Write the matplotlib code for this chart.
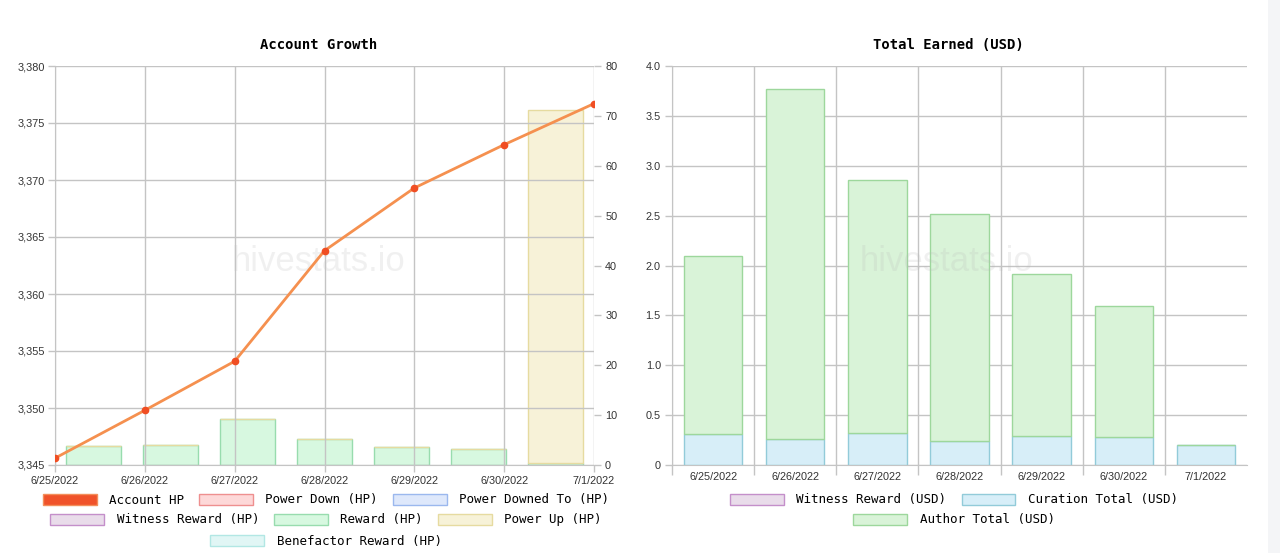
import matplotlib
matplotlib.use("Agg")
import matplotlib.pyplot as plt
import matplotlib.patches as mpatches
from matplotlib.ticker import FuncFormatter, FixedLocator, MultipleLocator
import numpy as np

dates = ["6/25/2022", "6/26/2022", "6/27/2022", "6/28/2022",
         "6/29/2022", "6/30/2022", "7/1/2022"]

# left chart: account growth
account_hp = [3345.6, 3349.8, 3354.1, 3363.8, 3369.3, 3373.1, 3376.7]
reward_hp = [3.8, 4.1, 9.3, 5.2, 3.6, 3.3, 0.5]
power_up_hp = [0, 0, 0, 0, 0, 0, 70.7]

# right chart: total earned (USD)
curation_usd = [0.31, 0.26, 0.32, 0.245, 0.29, 0.28, 0.20]
author_usd = [1.79, 3.51, 2.54, 2.27, 1.625, 1.315, 0.0]
witness_usd = [0, 0, 0, 0, 0, 0, 0]

W, H = 1280, 553
GRID = "#c4c4c4"
TXT = "#333333"
MONO = "DejaVu Sans Mono"
SANS = "Liberation Sans"

plt.rcParams["font.family"] = SANS


def rect(x0, x1, ytop, ybot):
    return [x0 / W, 1 - ybot / H, (x1 - x0) / W, (ybot - ytop) / H]


def style_ticks(ax):
    ax.tick_params(colors=GRID, labelcolor=TXT, labelsize=7.8, width=1)


def watermark(ax, x):
    ax.text(x, 0.509, "hivestats.io", transform=ax.transAxes, ha="center", va="center",
            fontsize=25, color="#b8b8b8", alpha=0.2, zorder=10)


def legend_rows(fig, rows, xc, ys):
    for row, y in zip(rows, ys):
        handles = [mpatches.Patch(facecolor=f, edgecolor=e, lw=1, label=l)
                   for l, f, e in row]
        fig.legend(handles=handles, loc="center", bbox_to_anchor=(xc / W, 1 - y / H),
                   ncol=len(handles), frameon=False,
                   prop={"family": MONO, "size": 9},
                   handlelength=4.3, handleheight=1.0, handletextpad=1.0,
                   columnspacing=1.2, borderpad=0, borderaxespad=0)


fig = plt.figure(figsize=(W / 100, H / 100), dpi=100, facecolor="white")
fig.patches.append(mpatches.Rectangle((1268 / W, 0), 12 / W, 1, transform=fig.transFigure,
                                      facecolor="#f4f5f7", edgecolor="none"))

# ---------------- Account Growth ----------------
left = rect(55, 594, 66, 465)
axb = fig.add_axes(left)
axl = fig.add_axes(left)
axl.patch.set_visible(False)

idx = np.arange(len(dates))
axb.bar(idx, reward_hp, width=0.71, color="#d7f8e0", edgecolor="#98dcae", lw=1)
axb.bar(idx, power_up_hp, width=0.71, bottom=reward_hp, color="#f7f2d8",
        edgecolor="#e6dba0", lw=1)
axb.set_xlim(-0.5, 6.5)
axb.set_ylim(0, 80)
axb.set_xticks([])
axb.yaxis.tick_right()
axb.yaxis.set_major_locator(MultipleLocator(10))
style_ticks(axb)
axb.tick_params(axis="y", length=5, pad=3)
for s in axb.spines.values():
    s.set_visible(False)
watermark(axb, 0.488)

axl.plot(idx, account_hp, color="#f5904f", lw=2, zorder=3)
axl.plot(idx, account_hp, "o", color="#f04e23", ms=4.5, zorder=4)
axl.set_xlim(0, 6)
axl.set_ylim(3345, 3380)
axl.set_xticks(idx)
axl.set_xticklabels(dates)
axl.yaxis.set_major_locator(MultipleLocator(5))
axl.yaxis.set_major_formatter(FuncFormatter(lambda v, p: f"{v:,.0f}"))
axl.grid(True, color=GRID, lw=1)
style_ticks(axl)
axl.tick_params(axis="y", length=5, pad=2)
axl.tick_params(axis="x", length=5, pad=3)
for s in axl.spines.values():
    s.set_color(GRID)
axl.spines["top"].set_visible(False)
axl.spines["right"].set_visible(False)

fig.text(319 / W, 1 - 45 / H, "Account Growth", ha="center", va="center",
         family=MONO, weight="bold", size=10, color="black")

legend_rows(fig, [
    [("Account HP", "#f0522a", "#f38e5a"),
     ("Power Down (HP)", "#fdd8d8", "#ee8f8f"),
     ("Power Downed To (HP)", "#dee8fb", "#9bb8ee")],
    [("Witness Reward (HP)", "#e9dcea", "#c48fca"),
     ("Reward (HP)", "#d7f8e0", "#98dcae"),
     ("Power Up (HP)", "#f7f2d8", "#e6dba0")],
    [("Benefactor Reward (HP)", "#e1f6f5", "#b2e7e4")],
], 326, [500, 520, 541])

# ---------------- Total Earned (USD) ----------------
axr = fig.add_axes(rect(672, 1247, 66, 465))
axr.bar(idx, witness_usd, width=0.71, color="#e9dcea", edgecolor="#c48fca", lw=1)
axr.bar(idx, curation_usd, width=0.71, color="#d7eef8", edgecolor="#92cbd9", lw=1)
axr.bar(idx, author_usd, width=0.71, bottom=curation_usd, color="#d9f3d8",
        edgecolor="#9dd79c", lw=1)
axr.set_xlim(-0.5, 6.5)
axr.set_ylim(0, 4)
axr.xaxis.set_major_locator(FixedLocator(np.arange(-0.5, 6, 1)))
axr.xaxis.set_major_formatter(FuncFormatter(lambda v, p: ""))
axr.xaxis.set_minor_locator(FixedLocator(idx))
axr.set_xticklabels(dates, minor=True)
axr.yaxis.set_major_locator(MultipleLocator(0.5))
axr.yaxis.set_major_formatter(FuncFormatter(lambda v, p: "0" if v == 0 else f"{v:.1f}"))
axr.grid(True, which="major", color=GRID, lw=1)
style_ticks(axr)
axr.tick_params(axis="x", which="major", length=7)
axr.tick_params(axis="x", which="minor", length=0, pad=5, labelsize=7.8, labelcolor=TXT)
axr.tick_params(axis="y", length=5, pad=3)
for s in axr.spines.values():
    s.set_color(GRID)
axr.spines["top"].set_visible(False)
axr.spines["right"].set_visible(False)
axr.set_axisbelow(True)
watermark(axr, 0.478)

fig.text(948 / W, 1 - 45 / H, "Total Earned (USD)", ha="center", va="center",
         family=MONO, weight="bold", size=10, color="black")

legend_rows(fig, [
    [("Witness Reward (USD)", "#e9dcea", "#c48fca"),
     ("Curation Total (USD)", "#d7eef8", "#92cbd9")],
    [("Author Total (USD)", "#d9f3d8", "#9dd79c")],
], 954, [500, 520])

fig.savefig("out.png", dpi=100, facecolor="white")
